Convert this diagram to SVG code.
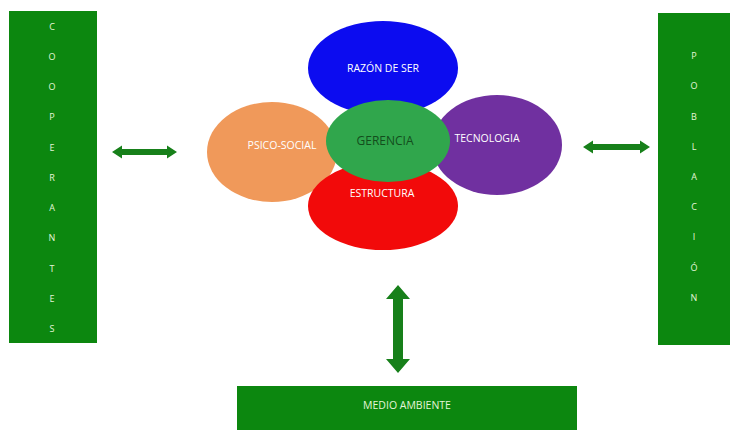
<svg xmlns="http://www.w3.org/2000/svg" width="730" height="430" viewBox="0 0 730 430">
<style>
.box{fill:#0c870f;}
.lt{font-family:"Open Sans","Liberation Sans",Arial,sans-serif;font-size:9px;fill:#e4f5d8;text-anchor:middle;dominant-baseline:central;}
.et{font-family:"Open Sans","Liberation Sans",sans-serif;font-size:10.5px;fill:#ffffff;text-anchor:middle;dominant-baseline:central;}
.arr{fill:#17801a;}
</style>
<rect width="730" height="430" fill="#ffffff"/>
<g id="cooperantes">
<rect class="box" x="9" y="11" width="88" height="332"/>
<text class="lt" x="52" y="26">C</text>
<text class="lt" x="52" y="56">O</text>
<text class="lt" x="52" y="86">O</text>
<text class="lt" x="52" y="116">P</text>
<text class="lt" x="52" y="147">E</text>
<text class="lt" x="52" y="177">R</text>
<text class="lt" x="52" y="207">A</text>
<text class="lt" x="52" y="237">N</text>
<text class="lt" x="52" y="268">T</text>
<text class="lt" x="52" y="298">E</text>
<text class="lt" x="52" y="328">S</text>
</g>
<g id="poblacion">
<rect class="box" x="658" y="13" width="72" height="332"/>
<text class="lt" x="694" y="55">P</text>
<text class="lt" x="694" y="85">O</text>
<text class="lt" x="694" y="116">B</text>
<text class="lt" x="694" y="146">L</text>
<text class="lt" x="694" y="176">A</text>
<text class="lt" x="694" y="206">C</text>
<text class="lt" x="694" y="236">I</text>
<text class="lt" x="694" y="267">Ó</text>
<text class="lt" x="694" y="297">N</text>
</g>
<g id="medio-ambiente">
<rect class="box" x="237" y="386" width="340" height="44"/>
<text class="lt" x="407" y="405" style="font-size:10.5px">MEDIO AMBIENTE</text>
</g>
<g id="razon-de-ser">
<ellipse cx="383" cy="68" rx="75" ry="47" fill="#0c0cf0"/>
<text class="et" x="383" y="68">RAZÓN DE SER</text>
</g>
<g id="psico-social">
<ellipse cx="272" cy="152" rx="65" ry="50" fill="#f0995a"/>
<text class="et" x="282" y="145">PSICO-SOCIAL</text>
</g>
<g id="tecnologia">
<ellipse cx="497" cy="145" rx="65" ry="50" fill="#7030a0"/>
<text class="et" x="487" y="138">TECNOLOGIA</text>
</g>
<g id="estructura">
<ellipse cx="383" cy="206" rx="75" ry="44" fill="#f20a0a"/>
<text class="et" x="382" y="193">ESTRUCTURA</text>
</g>
<g id="gerencia">
<ellipse cx="388" cy="141" rx="62" ry="41" fill="#30a64c"/>
<text class="et" x="385" y="140" style="fill:#134d1c;font-size:12px">GERENCIA</text>
</g>
<g id="connectors">
<polygon class="arr" points="112,152 122,145.5 122,149 167,149 167,145.5 177,152 167,158.5 167,155 122,155 122,158.5"/>
<polygon class="arr" points="583,147 593,140.5 593,144 640,144 640,140.5 650,147 640,153.5 640,150 593,150 593,153.5"/>
<polygon class="arr" points="398,285 410,299 403,299 403,359 410,359 398,373 386,359 393,359 393,299 386,299"/>
</g>
</svg>
